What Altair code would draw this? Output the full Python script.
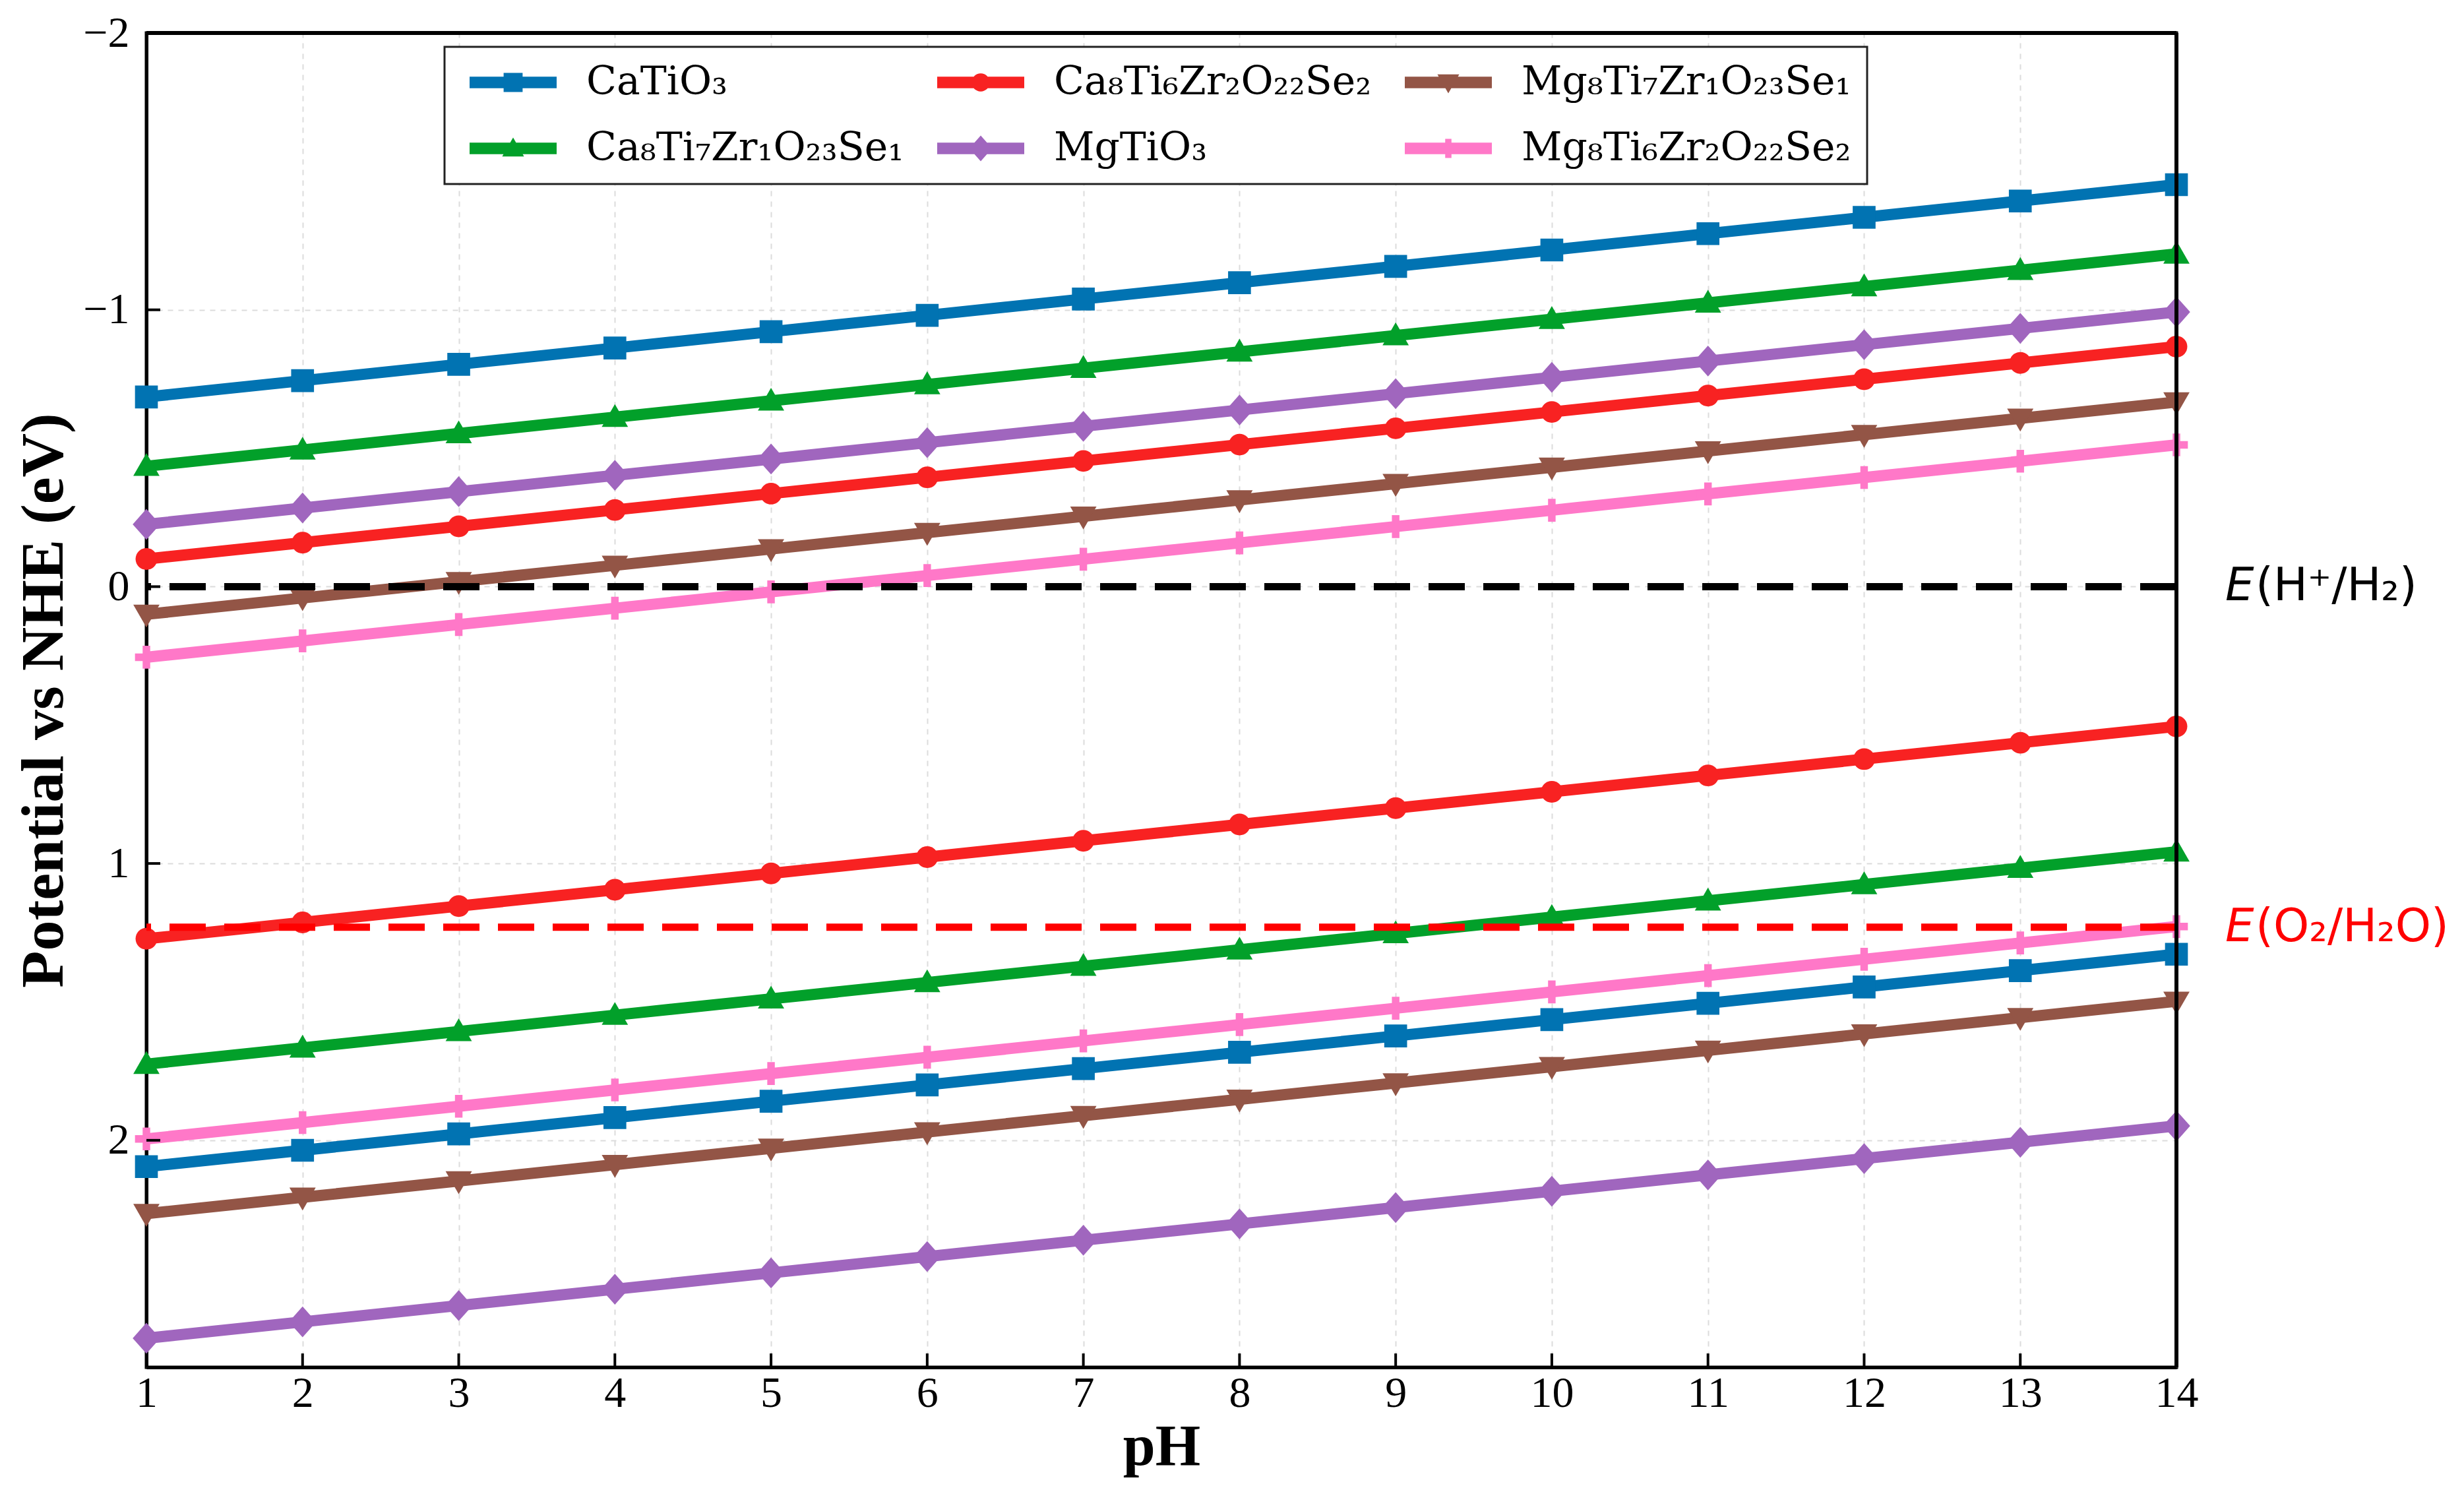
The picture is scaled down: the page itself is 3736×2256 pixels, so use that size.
import altair as alt
import pandas as pd

# ---------------- data ----------------
ph_values = [1, 2, 3, 4, 5, 6, 7, 8, 9, 10, 11, 12, 13, 14]

series_names = ["CaTiO₃", "Ca₈Ti₇Zr₁O₂₃Se₁", "Ca₈Ti₆Zr₂O₂₂Se₂",
                "MgTiO₃", "Mg₈Ti₇Zr₁O₂₃Se₁", "Mg₈Ti₆Zr₂O₂₂Se₂"]

# conduction-band edge potentials (eV vs NHE) at pH 1..14
catio3_cb = [-0.685, -0.744, -0.803, -0.862, -0.921, -0.980, -1.039, -1.098, -1.157, -1.216, -1.275, -1.334, -1.393, -1.452]
ca_zr1_cb = [-0.435, -0.494, -0.553, -0.612, -0.671, -0.730, -0.789, -0.848, -0.907, -0.966, -1.025, -1.084, -1.143, -1.202]
ca_zr2_cb = [-0.100, -0.159, -0.218, -0.277, -0.336, -0.395, -0.454, -0.513, -0.572, -0.631, -0.690, -0.749, -0.808, -0.867]
mgtio3_cb = [-0.225, -0.284, -0.343, -0.402, -0.461, -0.520, -0.579, -0.638, -0.697, -0.756, -0.815, -0.874, -0.933, -0.992]
mg_zr1_cb = [0.100, 0.041, -0.018, -0.077, -0.136, -0.195, -0.254, -0.313, -0.372, -0.431, -0.490, -0.549, -0.608, -0.667]
mg_zr2_cb = [0.255, 0.196, 0.137, 0.078, 0.019, -0.040, -0.099, -0.158, -0.217, -0.276, -0.335, -0.394, -0.453, -0.512]

# valence-band edge potentials (eV vs NHE) at pH 1..14
catio3_vb = [2.095, 2.036, 1.977, 1.918, 1.859, 1.800, 1.741, 1.682, 1.623, 1.564, 1.505, 1.446, 1.387, 1.328]
ca_zr1_vb = [1.725, 1.666, 1.607, 1.548, 1.489, 1.430, 1.371, 1.312, 1.253, 1.194, 1.135, 1.076, 1.017, 0.958]
ca_zr2_vb = [1.272, 1.213, 1.154, 1.095, 1.036, 0.977, 0.918, 0.859, 0.800, 0.741, 0.682, 0.623, 0.564, 0.505]
mgtio3_vb = [2.715, 2.656, 2.597, 2.538, 2.479, 2.420, 2.361, 2.302, 2.243, 2.184, 2.125, 2.066, 2.007, 1.948]
mg_zr1_vb = [2.265, 2.206, 2.147, 2.088, 2.029, 1.970, 1.911, 1.852, 1.793, 1.734, 1.675, 1.616, 1.557, 1.498]
mg_zr2_vb = [1.995, 1.936, 1.877, 1.818, 1.759, 1.700, 1.641, 1.582, 1.523, 1.464, 1.405, 1.346, 1.287, 1.228]

ref_h2 = [0.0]
ref_o2 = [1.23]
y_ticks = [-2, -1, 0, 1, 2]

# ---------------- styles ----------------
series_colors = {
    "CaTiO₃": "#0173b2",
    "Ca₈Ti₇Zr₁O₂₃Se₁": "#02a02a",
    "Ca₈Ti₆Zr₂O₂₂Se₂": "#f82222",
    "MgTiO₃": "#a066be",
    "Mg₈Ti₇Zr₁O₂₃Se₁": "#935546",
    "Mg₈Ti₆Zr₂O₂₂Se₂": "#ff78c8",
}
# legend fills column by column (2 rows x 3 columns)
legend_order = series_names
color_range = [series_colors[n] for n in legend_order]


def poly(points, dx=0.0, s=1.0):
    return "M" + "L".join(f"{x * s + dx:.3f},{y * s:.3f}" for x, y in points) + "Z"


def circ(r, dx=0.0):
    return (f"M{dx + r:.3f},0A{r:.3f},{r:.3f},0,1,1,{dx - r:.3f},0"
            f"A{r:.3f},{r:.3f},0,1,1,{dx + r:.3f},0Z")


marker_geo = {
    "CaTiO₃": ("poly", [(-1, -1), (1, -1), (1, 1), (-1, 1)]),
    "Ca₈Ti₇Zr₁O₂₃Se₁": ("poly", [(0, -1.15), (1.15, 0.85), (-1.15, 0.85)]),
    "Ca₈Ti₆Zr₂O₂₂Se₂": ("circ", 0.95),
    "MgTiO₃": ("poly", [(0, -1.35), (1.2, 0), (0, 1.35), (-1.2, 0)]),
    "Mg₈Ti₇Zr₁O₂₃Se₁": ("poly", [(0, 1.15), (-1.15, -0.85), (1.15, -0.85)]),
    "Mg₈Ti₆Zr₂O₂₂Se₂": ("poly", [(-0.33, -1), (0.33, -1), (0.33, -0.33), (1, -0.33), (1, 0.33),
                                  (0.33, 0.33), (0.33, 1), (-0.33, 1), (-0.33, 0.33), (-1, 0.33),
                                  (-1, -0.33), (-0.33, -0.33)]),
}


def marker_path(name, dx=0.0, s=1.0):
    kind, g = marker_geo[name]
    if kind == "circ":
        return circ(g * s, dx)
    return poly(g, dx, s)


shape_range = [marker_path(n) for n in legend_order]
bar = "M-1,-0.55H7.25V0.55H-1Z"
legend_paths = [bar + marker_path(n, dx=3.125, s=0.9) for n in legend_order]

rows = []
groups = [
    ("CaTiO₃", catio3_cb, catio3_vb),
    ("Ca₈Ti₇Zr₁O₂₃Se₁", ca_zr1_cb, ca_zr1_vb),
    ("Ca₈Ti₆Zr₂O₂₂Se₂", ca_zr2_cb, ca_zr2_vb),
    ("MgTiO₃", mgtio3_cb, mgtio3_vb),
    ("Mg₈Ti₇Zr₁O₂₃Se₁", mg_zr1_cb, mg_zr1_vb),
    ("Mg₈Ti₆Zr₂O₂₂Se₂", mg_zr2_cb, mg_zr2_vb),
]
for name, cb, vb in groups:
    for p, c, v in zip(ph_values, cb, vb):
        rows.append({"pH": p, "potential": c, "series": name, "band": "CB"})
        rows.append({"pH": p, "potential": v, "series": name, "band": "VB"})
df = pd.DataFrame(rows)

W, H = 3078, 2023

x_enc = alt.X("pH:Q",
              scale=alt.Scale(domain=[1, 14], nice=False, zero=False),
              axis=alt.Axis(title="pH", values=ph_values, format="d", labelFlush=False,
                            ticks=False, labelPadding=7,
                            titleY=147, titleBaseline="alphabetic", titleFontSize=88))
y_enc = alt.Y("potential:Q",
              scale=alt.Scale(domain=[-2, 2.82], reverse=True, nice=False, zero=False),
              axis=alt.Axis(title="Potential vs NHE (eV)", values=y_ticks, format="d", labelFlush=False,
                            ticks=False, labelPadding=26,
                            titleX=-156, titleBaseline="middle", titleFontSize=92))
color_plain = alt.Color("series:N", scale=alt.Scale(domain=legend_order, range=color_range), legend=None)

base = alt.Chart(df).encode(x=x_enc, y=y_enc, color=color_plain)

lines = base.mark_line(strokeWidth=17).encode(detail="band:N")
points = base.mark_point(filled=True, opacity=1, size=1200, strokeWidth=0).encode(
    shape=alt.Shape("series:N", scale=alt.Scale(domain=legend_order, range=shape_range), legend=None),
    detail="band:N",
)

legend_kw = dict(
    title=None, orient="none", legendX=452, legendY=21, columns=3,
    columnPadding=36, rowPadding=40, padding=24,
    strokeColor="#222222", fillColor="white",
    symbolSize=1024, labelOffset=131, symbolStrokeWidth=0, symbolOpacity=1,
    labelFont="DejaVu Serif", labelFontSize=60, labelColor="black", labelLimit=0,
)

# legend-only layer: one hidden point per series (outside the x domain, clipped)
legend_df = pd.DataFrame({"series": legend_order, "pH": [100] * 6, "potential": [0.0] * 6})
legend_layer = alt.Chart(legend_df).mark_point(filled=True, opacity=1, size=1024, strokeWidth=0, clip=True).encode(
    x="pH:Q", y="potential:Q",
    color=alt.Color("series:N", scale=alt.Scale(domain=legend_order, range=color_range),
                    legend=alt.Legend(**legend_kw)),
    shape=alt.Shape("series:N", scale=alt.Scale(domain=legend_order, range=legend_paths),
                    legend=alt.Legend(**legend_kw)),
)

# inward tick marks, placed through the axis scales
xt_df = pd.DataFrame({"pH": ph_values})
yt_df = pd.DataFrame({"potential": y_ticks})
x_ticks = alt.Chart(xt_df).mark_rule(color="black", strokeWidth=4).encode(
    x="pH:Q", y=alt.value(H - 21), y2=alt.value(H))
y_tick_marks = alt.Chart(yt_df).mark_rule(color="black", strokeWidth=4).encode(
    y="potential:Q", x=alt.value(0), x2=alt.value(21))

# top and right spines drawn above the grid
frame_top = alt.Chart(xt_df).mark_rule(color="black", strokeWidth=5).encode(
    x=alt.value(0), x2=alt.value(W), y=alt.value(0))
frame_right = alt.Chart(xt_df).mark_rule(color="black", strokeWidth=5).encode(
    x=alt.value(W), y=alt.value(0), y2=alt.value(H))

h2_df = pd.DataFrame({"potential": ref_h2, "label": ["(H⁺/H₂)"]})
o2_df = pd.DataFrame({"potential": ref_o2, "label": ["(O₂/H₂O)"]})

h2_rule = alt.Chart(h2_df).mark_rule(color="black", strokeWidth=11, strokeDash=[55, 28]).encode(y="potential:Q")
o2_rule = alt.Chart(o2_df).mark_rule(color="#ff0000", strokeWidth=11, strokeDash=[55, 28]).encode(y="potential:Q")

TX = 3152
txt_kw = dict(font="DejaVu Sans", fontSize=69, align="left", baseline="middle")
h2_E = alt.Chart(h2_df).mark_text(text="E", fontStyle="italic", color="black", **txt_kw).encode(
    x=alt.value(TX), y="potential:Q")
h2_T = alt.Chart(h2_df).mark_text(color="black", **txt_kw).encode(
    x=alt.value(TX + 46), y="potential:Q", text="label:N")
o2_E = alt.Chart(o2_df).mark_text(text="E", fontStyle="italic", color="#ff0000", **txt_kw).encode(
    x=alt.value(TX), y="potential:Q")
o2_T = alt.Chart(o2_df).mark_text(color="#ff0000", **txt_kw).encode(
    x=alt.value(TX + 46), y="potential:Q", text="label:N")

chart = alt.layer(
    lines, points, h2_rule, o2_rule, x_ticks, y_tick_marks, frame_top, frame_right,
    h2_E, h2_T, o2_E, o2_T, legend_layer
).resolve_scale(
    color="independent", shape="independent"
).properties(
    width=W, height=H,
    autosize=alt.AutoSizeParams(type="none"),
    padding={"left": 214, "top": 42, "right": 428, "bottom": 175},
    background="white",
).configure_view(
    stroke="black", strokeWidth=5
).configure_axis(
    domainColor="black", domainWidth=5,
    labelFont="Liberation Serif", labelFontSize=66, labelColor="black",
    titleFont="Liberation Serif", titleFontWeight="bold", titleColor="black",
    grid=True, gridColor="#dcdcdc", gridDash=[8, 8], gridWidth=2,
).configure_legend(
    strokeWidth=3
)

chart.save("out.html", embed_options={"renderer": "svg", "actions": False})
